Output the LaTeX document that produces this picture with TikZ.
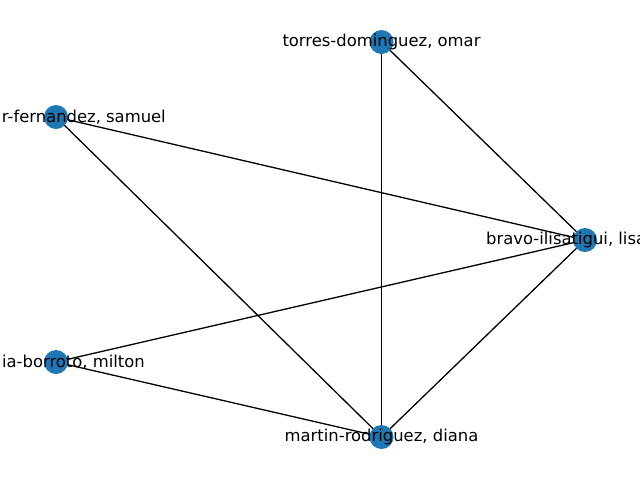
\documentclass[tikz,border=0pt]{standalone}
\usepackage{fontspec}
\setmainfont{DejaVu Sans}
\definecolor{nodeblue}{HTML}{1F77B4}
\tikzset{
  vert/.style={circle, fill=nodeblue, minimum size=24pt, inner sep=0pt},
  lbl/.style={font=\fontsize{16.4}{20}\selectfont, text=black, inner sep=0pt},
  edge/.style={draw=black, line width=1.3pt}
}
\begin{document}
\begin{tikzpicture}[x=1pt,y=-1pt]
\useasboundingbox (0,0) rectangle (640,480);
\clip (0,0) rectangle (640,480);
\coordinate (torres) at (381.5,42);
\coordinate (fern) at (56,117);
\coordinate (bravo) at (585,240);
\coordinate (borr) at (56,362);
\coordinate (martin) at (381.5,437);
\draw[edge] (torres) -- (bravo);
\draw[edge] (torres) -- (martin);
\draw[edge] (fern) -- (bravo);
\draw[edge] (fern) -- (martin);
\draw[edge] (borr) -- (bravo);
\draw[edge] (borr) -- (martin);
\draw[edge] (bravo) -- (martin);
\node[vert] (ntorres) at (torres) {};
\node[vert] (nfern) at (fern) {};
\node[vert] (nbravo) at (bravo) {};
\node[vert] (nborr) at (borr) {};
\node[vert] (nmartin) at (martin) {};
\node[lbl] (ltorres) at (torres) {torres-dominguez, omar};
\node[lbl, anchor=east] (lfern) at (166,117) {r-fernandez, samuel};
\node[lbl, anchor=west] (lbravo) at (486,240) {bravo-ilisatigui, lisa};
\node[lbl, anchor=east] (lborr) at (145,362) {ia-borroto, milton};
\node[lbl] (lmartin) at (martin) {martin-rodriguez, diana};
\end{tikzpicture}
\end{document}
